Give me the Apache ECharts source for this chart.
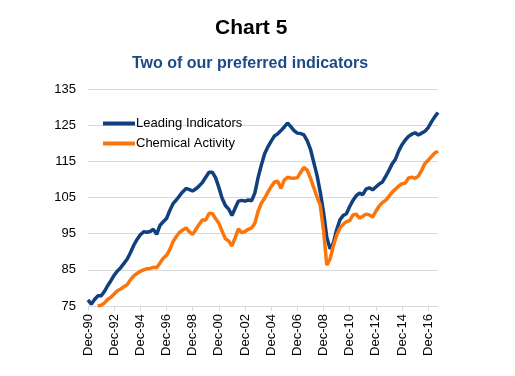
<!DOCTYPE html>
<html>
<head>
<meta charset="utf-8">
<script src="https://cdn.jsdelivr.net/npm/echarts@6/dist/echarts.min.js"></script>
<style>
  html, body { margin: 0; padding: 0; background: #fff; }
  #chart { width: 515px; height: 376px; }
</style>
</head>
<body>
<div id="chart"></div>
<script>
// quarterly points, Dec-90 .. Sep-17
const months = ['Mar', 'Jun', 'Sep', 'Dec']
const categories = ['Dec-90']
for (let y = 1991; y <= 2017; y++) {
  for (const m of months) {
    if (y === 2017 && m === 'Dec') break
    categories.push(m + '-' + String(y % 100).padStart(2, '0'))
  }
}

const leading = [
  76.7, 75.5, 76.8, 77.8, 77.8, 79.0, 80.6, 82.0, 83.5, 84.7,
  85.6, 86.8, 88.0, 89.8, 91.8, 93.4, 94.7, 95.5, 95.4, 95.6,
  96.2, 94.8, 97.3, 98.3, 99.2, 101.4, 103.3, 104.3, 105.5, 106.6,
  107.5, 107.2, 106.8, 107.4, 108.2, 109.2, 110.6, 112.0, 112.0, 110.5,
  107.8, 104.8, 102.8, 101.8, 100.0, 102.1, 104.0, 104.2, 104.0, 104.3,
  104.1, 106.2, 110.5, 114.0, 117.1, 119.0, 120.6, 122.0, 122.6, 123.5,
  124.5, 125.6, 124.6, 123.5, 122.8, 122.7, 122.3, 120.7, 118.4, 114.8,
  111.2, 106.5, 101.0, 94.0, 90.8, 92.4, 96.0, 98.8, 100.0, 100.5,
  102.5, 104.2, 105.5, 106.2, 105.8, 107.3, 107.7, 107.1, 107.9, 108.7,
  109.3, 110.8, 112.5, 114.3, 115.6, 117.9, 119.6, 120.9, 121.9, 122.5,
  122.9, 122.3, 122.8, 123.3, 124.3, 125.9, 127.3, 128.5
]

const chemical = [
  null, null, null, 75.0, 75.2, 75.8, 76.8, 77.4, 78.3, 79.2,
  79.7, 80.3, 80.9, 82.3, 83.3, 84.0, 84.6, 85.0, 85.3, 85.4,
  85.7, 85.6, 86.9, 88.2, 89.0, 90.6, 92.8, 94.2, 95.4, 96.0,
  96.6, 95.5, 94.8, 96.2, 97.6, 98.8, 98.8, 100.6, 100.6, 99.2,
  97.9, 95.7, 93.6, 93.0, 91.6, 93.9, 96.3, 95.3, 95.6, 96.2,
  96.6, 97.9, 101.2, 103.4, 104.8, 106.5, 108.0, 109.3, 109.5, 107.5,
  109.8, 110.6, 110.4, 110.3, 110.5, 111.9, 113.3, 112.6, 110.4, 107.8,
  105.2, 102.8, 96.0, 86.3, 88.0, 91.6, 94.5, 96.5, 97.6, 98.3,
  98.6, 100.2, 100.4, 99.3, 99.8, 100.4, 100.2, 99.6, 101.2, 102.6,
  103.6, 104.2, 105.3, 106.5, 107.3, 108.2, 108.8, 109.0, 110.4, 110.6,
  110.3, 110.9, 112.5, 114.4, 115.3, 116.3, 117.3, 117.8
]

const font = 'Liberation Sans, Arial, sans-serif'
const chart = echarts.init(document.getElementById('chart'))
chart.setOption({
  animation: false,
  title: [{
    text: 'Chart 5',
    left: 215, top: 18, padding: 0,
    textStyle: { fontFamily: font, fontSize: 21, fontWeight: 'bold', color: '#000' }
  }, {
    text: 'Two of our preferred indicators',
    left: 132, top: 56, padding: 0,
    textStyle: { fontFamily: font, fontSize: 16, fontWeight: 'bold', color: '#1b4a86' }
  }],
  legend: {
    orient: 'vertical',
    left: 103, top: 116, padding: 0,
    itemWidth: 32, itemHeight: 4,
    itemGap: 5,
    icon: 'rect',
    textStyle: { fontFamily: font, fontSize: 13, color: '#000', lineHeight: 15, padding: [0, 0, 0, -4] },
    data: ['Leading Indicators', 'Chemical Activity']
  },
  grid: { left: 88, right: 77, top: 89, bottom: 70 },
  xAxis: {
    type: 'category',
    boundaryGap: false,
    data: categories,
    axisLine: { lineStyle: { color: '#d9d9d9', width: 1 } },
    axisTick: { interval: 7, length: 5, lineStyle: { color: '#d9d9d9' } },
    axisLabel: { interval: 7, rotate: 90, margin: 8, fontFamily: font, fontSize: 13, color: '#000' }
  },
  yAxis: {
    type: 'value',
    min: 75, max: 135, interval: 10,
    axisLine: { show: false },
    axisTick: { show: false },
    splitLine: { lineStyle: { color: '#d9d9d9' } },
    axisLabel: { margin: 12, fontFamily: font, fontSize: 13, color: '#000' }
  },
  series: [{
    name: 'Leading Indicators',
    type: 'line',
    data: leading,
    symbol: 'none',
    color: '#123f7d',
    lineStyle: { width: 3.5 }
  }, {
    name: 'Chemical Activity',
    type: 'line',
    data: chemical,
    symbol: 'none',
    color: '#fb750b',
    lineStyle: { width: 3.5 }
  }]
})
</script>
</body>
</html>
